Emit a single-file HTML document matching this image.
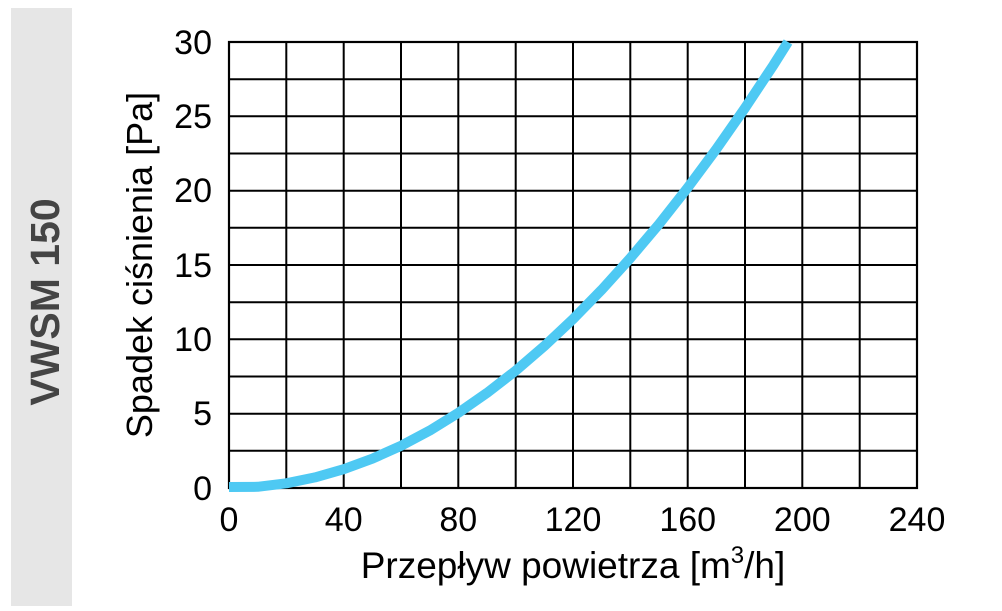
<!DOCTYPE html>
<html><head><style>
body{margin:0;width:1002px;height:606px;background:#fff;overflow:hidden;font-family:"Liberation Sans",Arial,sans-serif;}
</style></head><body>
<svg width="1002" height="606" xmlns="http://www.w3.org/2000/svg" font-family="Liberation Sans, Arial, sans-serif">
<rect x="11" y="8" width="61" height="598" fill="#e6e6e6"/>
<text transform="translate(59,302) rotate(-90)" text-anchor="middle" style="font-size:41px;font-weight:bold" fill="#444">VWSM 150</text>
<g stroke="#000" stroke-width="2">
<line x1="286.3" y1="42" x2="286.3" y2="488"/><line x1="343.7" y1="42" x2="343.7" y2="488"/><line x1="401" y1="42" x2="401" y2="488"/><line x1="458.3" y1="42" x2="458.3" y2="488"/><line x1="515.7" y1="42" x2="515.7" y2="488"/><line x1="573" y1="42" x2="573" y2="488"/><line x1="630.3" y1="42" x2="630.3" y2="488"/><line x1="687.7" y1="42" x2="687.7" y2="488"/><line x1="745" y1="42" x2="745" y2="488"/><line x1="802.3" y1="42" x2="802.3" y2="488"/><line x1="859.7" y1="42" x2="859.7" y2="488"/>
<line x1="229" y1="79.2" x2="917" y2="79.2"/><line x1="229" y1="116.3" x2="917" y2="116.3"/><line x1="229" y1="153.5" x2="917" y2="153.5"/><line x1="229" y1="190.7" x2="917" y2="190.7"/><line x1="229" y1="227.8" x2="917" y2="227.8"/><line x1="229" y1="265" x2="917" y2="265"/><line x1="229" y1="302.2" x2="917" y2="302.2"/><line x1="229" y1="339.3" x2="917" y2="339.3"/><line x1="229" y1="376.5" x2="917" y2="376.5"/><line x1="229" y1="413.7" x2="917" y2="413.7"/><line x1="229" y1="450.8" x2="917" y2="450.8"/>
</g>
<rect x="229" y="42" width="688" height="446" stroke="#000" stroke-width="2.2" fill="none"/>
<polyline fill="none" stroke="#4ec9f3" stroke-width="10" stroke-linejoin="round" points="229,487 257.7,486.8 286.3,483.3 315,477.4 343.7,469.2 372.3,458.7 401,445.8 429.7,430.6 458.3,412.9 487,392.9 515.7,370.7 544.3,346.1 573,319.1 601.7,289.8 630.3,258.1 659,224.2 687.7,187.7 716.3,149.1 745,108 773.7,64.7 788,42"/>
<g style="font-size:34px" fill="#000" text-anchor="end">
<text x="212" y="54">30</text><text x="212" y="128">25</text><text x="212" y="202">20</text><text x="212" y="277">15</text><text x="212" y="351">10</text><text x="212" y="425">5</text><text x="212" y="500">0</text>
</g>
<g style="font-size:34px" fill="#000" text-anchor="middle">
<text x="229" y="531">0</text><text x="343.7" y="531">40</text><text x="458.3" y="531">80</text><text x="573" y="531">120</text><text x="687.7" y="531">160</text><text x="802.3" y="531">200</text><text x="917" y="531">240</text>
</g>
<text x="573" y="578" style="font-size:37px" text-anchor="middle">Przepływ powietrza [m<tspan style="font-size:24px" dy="-15">3</tspan><tspan dy="15">/h]</tspan></text>
<text transform="translate(152,265) rotate(-90)" style="font-size:36px" text-anchor="middle">Spadek ciśnienia [Pa]</text>
</svg>
</body></html>
